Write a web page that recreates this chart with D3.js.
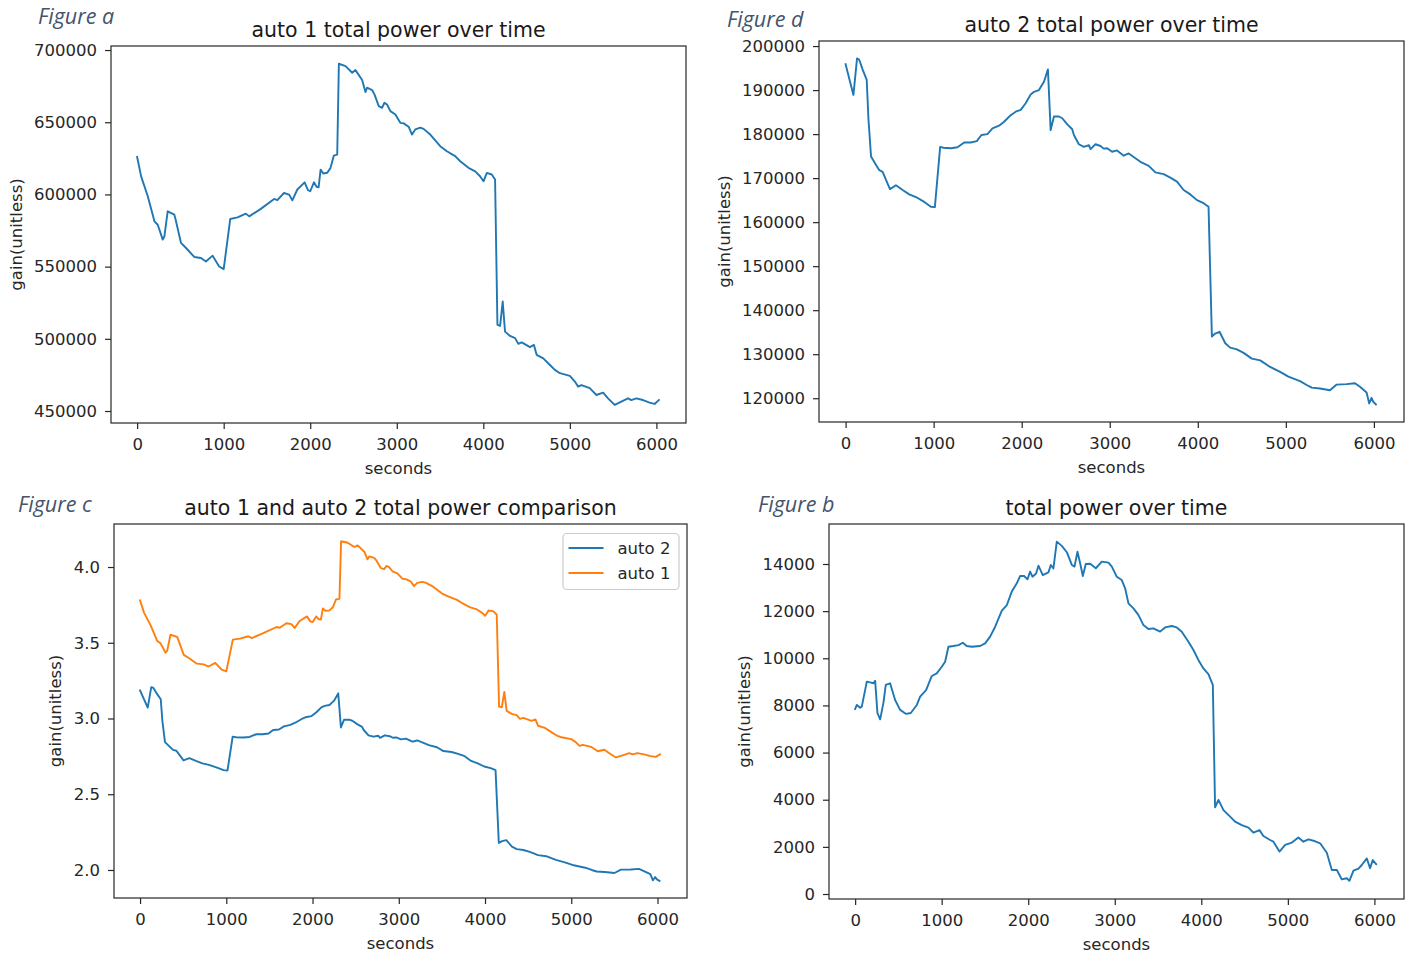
<!DOCTYPE html>
<html>
<head>
<meta charset="utf-8">
<script src="https://cdn.jsdelivr.net/npm/d3@7/dist/d3.min.js"></script>
<style>
  html, body { margin: 0; padding: 0; background: #fff; }
  svg { display: block; }
  .tick text { font-family: "DejaVu Sans", sans-serif; font-size: 16.5px; fill: #262626; }
  .tick line { stroke: #262626; stroke-width: 1.2; }
</style>
</head>
<body>
<svg id="chart" width="1411" height="953"></svg>
<script>
// ---- measurements: seconds and gain for each run ----
const auto1Seconds = [0,46,123,200,238,296,315,353,430,445,507,565,660,737,795,872,948,1000,1076,1160,1256,1295,1429,1583,1620,1697,1756,1793,1851,1935,1974,2000,2043,2073,2097,2120,2150,2197,2235,2273,2312,2331,2408,2485,2523,2600,2638,2657,2715,2742,2792,2830,2857,2888,2926,2984,3041,3080,3137,3176,3214,3272,3310,3387,3502,3579,3675,3733,3829,3906,3963,4002,4041,4098,4136,4163,4194,4224,4251,4309,4367,4405,4444,4539,4585,4616,4693,4770,4827,4885,5000,5058,5096,5134,5230,5307,5384,5441,5518,5595,5672,5710,5768,5845,5921,5979,6029];
const auto1Gain = [626000,612500,598700,581400,579000,568700,571000,588300,586000,582500,566400,562900,556700,556000,553600,557600,550100,548300,583000,584100,586700,584800,590000,596900,596000,601000,599900,595900,603400,608400,602900,602200,608400,605300,605000,617200,614500,615000,618400,626900,627600,690500,688900,684300,686100,679200,670900,673900,672300,669300,661200,660000,663500,662300,657700,655400,649600,649200,646900,641500,645000,646200,645400,641500,633400,629900,626500,623000,618400,616000,612600,609100,614900,613800,610300,509700,509000,525800,505000,502000,500500,496500,497500,494200,495800,488900,486500,481900,478500,476200,474300,470400,466900,468000,465800,461100,462700,458800,454200,456500,458800,457600,458800,457600,455800,454900,457600];
const auto1Relative = [3.780,3.699,3.615,3.511,3.496,3.434,3.448,3.553,3.539,3.517,3.420,3.399,3.362,3.357,3.343,3.367,3.322,3.311,3.521,3.527,3.543,3.531,3.563,3.604,3.599,3.629,3.623,3.598,3.644,3.674,3.641,3.636,3.674,3.655,3.653,3.727,3.711,3.714,3.734,3.786,3.790,4.170,4.160,4.132,4.143,4.101,4.051,4.070,4.060,4.042,3.993,3.986,4.007,3.999,3.972,3.958,3.923,3.920,3.906,3.874,3.895,3.902,3.897,3.874,3.825,3.804,3.783,3.762,3.734,3.720,3.699,3.678,3.713,3.707,3.685,3.078,3.074,3.175,3.050,3.031,3.022,2.998,3.004,2.984,2.994,2.952,2.938,2.910,2.889,2.876,2.864,2.841,2.819,2.826,2.813,2.784,2.794,2.771,2.743,2.757,2.771,2.763,2.771,2.763,2.752,2.747,2.763];

const auto2Seconds = [0,89,130,155,195,240,259,289,346,383,421,459,504,572,648,723,799,893,969,1014,1074,1112,1196,1271,1347,1422,1490,1543,1611,1668,1743,1800,1875,1932,1989,2045,2102,2140,2196,2253,2298,2329,2366,2423,2461,2518,2574,2593,2649,2706,2763,2782,2838,2895,2932,2970,3027,3083,3159,3215,3272,3348,3443,3518,3612,3688,3764,3839,3915,3991,4066,4122,4160,4198,4247,4312,4368,4444,4520,4614,4709,4822,4935,5029,5161,5237,5294,5388,5501,5577,5690,5785,5842,5917,5947,5973,5993,6023];
const auto2Gain = [195900,188900,197200,196900,194600,192300,183600,174900,173000,171800,171400,169600,167500,168400,167300,166300,165700,164600,163500,163400,177100,176900,176800,177000,178100,178100,178400,179800,180000,181300,181900,182800,184300,185100,185500,187000,189000,189600,190000,191900,194700,180900,184000,184000,183600,182200,181100,179800,177700,177100,177500,176600,177700,177300,176700,176800,176000,176300,175100,175600,174800,173700,172800,171300,170900,170100,169200,167300,166300,165000,164300,163500,134000,134700,135100,132500,131500,131100,130300,129000,128600,127100,126000,124900,123900,123000,122400,122200,121800,123100,123200,123400,122600,121300,118800,120100,119200,118600];
const auto2Relative = [3.185,3.072,3.207,3.202,3.164,3.127,2.985,2.844,2.813,2.793,2.787,2.758,2.724,2.738,2.720,2.704,2.694,2.676,2.659,2.657,2.880,2.876,2.875,2.878,2.896,2.896,2.901,2.924,2.927,2.948,2.958,2.972,2.997,3.010,3.016,3.041,3.073,3.083,3.089,3.120,3.166,2.941,2.992,2.992,2.985,2.963,2.945,2.924,2.889,2.880,2.886,2.872,2.889,2.883,2.873,2.875,2.862,2.867,2.847,2.855,2.842,2.824,2.810,2.785,2.779,2.766,2.751,2.720,2.704,2.683,2.672,2.659,2.179,2.190,2.197,2.154,2.138,2.132,2.119,2.098,2.091,2.067,2.049,2.031,2.015,2.000,1.990,1.987,1.980,2.002,2.003,2.007,1.993,1.972,1.932,1.953,1.938,1.928];

const totalSeconds = [0,20,58,77,135,173,212,231,258,289,327,354,404,462,520,589,643,713,751,820,886,943,1001,1040,1078,1136,1194,1244,1290,1348,1444,1502,1560,1618,1695,1753,1810,1868,1906,1953,1991,2022,2049,2091,2118,2168,2233,2261,2291,2330,2388,2446,2504,2535,2569,2600,2631,2665,2716,2781,2850,2927,2966,3023,3081,3120,3158,3216,3273,3331,3389,3446,3524,3581,3659,3716,3774,3851,3909,3966,4024,4082,4133,4159,4198,4256,4333,4390,4468,4545,4602,4672,4717,4795,4833,4903,4969,5046,5122,5180,5238,5296,5373,5450,5508,5566,5623,5681,5711,5758,5816,5854,5912,5950,5981,6020];
const totalGain = [7850,8020,7900,7950,9010,8980,8940,9050,7670,7410,8110,8870,8940,8230,7810,7640,7680,8020,8370,8650,9250,9360,9640,9850,10490,10520,10560,10660,10520,10490,10520,10630,10920,11340,12020,12260,12830,13180,13490,13490,13350,13680,13460,13600,13930,13530,13640,13960,13810,14950,14770,14500,13960,13890,14520,14030,13490,14000,14010,13820,14100,14060,13890,13460,13320,12970,12330,12120,11840,11410,11240,11270,11130,11310,11370,11310,11130,10700,10350,9930,9570,9330,8870,3680,3990,3560,3280,3070,2920,2820,2600,2710,2460,2290,2220,1800,2080,2180,2400,2220,2320,2260,2150,1750,1020,1020,620,670,560,990,1080,1230,1510,1090,1440,1270];

// ---- tick values ----
const secondTicks = [0,1000,2000,3000,4000,5000,6000];
const auto1Ticks = [450000,500000,550000,600000,650000,700000];
const auto2Ticks = [120000,130000,140000,150000,160000,170000,180000,190000,200000];
const relativeTicks = [2.0,2.5,3.0,3.5,4.0];
const totalTicks = [0,2000,4000,6000,8000,10000,12000,14000];

const BLUE = "#1f77b4", ORANGE = "#ff7f0e";
const pair = (xs, ys) => xs.map((s, i) => ({s, v: ys[i]}));

const panels = [
  { tag: "Figure a", tagX: 38, tagY: 24,
    frame: {left: 111, top: 46, right: 686, bottom: 423},
    yDomain: [441700, 702800], yTicks: auto1Ticks, yFormat: d3.format("d"),
    title: "auto 1 total power over time",
    series: [{name: "auto 1", color: BLUE, pts: pair(auto1Seconds, auto1Gain)}] },
  { tag: "Figure d", tagX: 727, tagY: 26.5,
    frame: {left: 819, top: 41, right: 1404, bottom: 422},
    yDomain: [114600, 201150], yTicks: auto2Ticks, yFormat: d3.format("d"),
    title: "auto 2 total power over time",
    series: [{name: "auto 2", color: BLUE, pts: pair(auto2Seconds, auto2Gain)}] },
  { tag: "Figure c", tagX: 18, tagY: 512,
    frame: {left: 114, top: 524, right: 687, bottom: 898},
    yDomain: [1.815, 4.284], yTicks: relativeTicks, yFormat: d3.format(".1f"),
    title: "auto 1 and auto 2 total power comparison",
    legend: true,
    series: [{name: "auto 2", color: BLUE, pts: pair(auto2Seconds, auto2Relative)},
             {name: "auto 1", color: ORANGE, pts: pair(auto1Seconds, auto1Relative)}] },
  { tag: "Figure b", tagX: 758, tagY: 512,
    frame: {left: 829, top: 524, right: 1404, bottom: 899},
    yDomain: [-212, 15697], yTicks: totalTicks, yFormat: d3.format("d"),
    title: "total power over time",
    series: [{name: "total", color: BLUE, pts: pair(totalSeconds, totalGain)}] }
];

const svg = d3.select("#chart");
svg.append("rect").attr("width", 1411).attr("height", 953).attr("fill", "#fff");

const FONT = "DejaVu Sans, sans-serif";

panels.forEach(p => {
  const f = p.frame;
  const x = d3.scaleLinear().domain([-302, 6342]).range([f.left, f.right]);
  const y = d3.scaleLinear().domain(p.yDomain).range([f.bottom, f.top]);
  const g = svg.append("g");

  // plot lines, clipped to the axes area
  const clipId = "clip-" + p.tag.replace(/\s/g, "");
  svg.append("clipPath").attr("id", clipId)
    .append("rect").attr("x", f.left).attr("y", f.top)
    .attr("width", f.right - f.left).attr("height", f.bottom - f.top);

  const line = d3.line().x(d => x(d.s)).y(d => y(d.v));
  p.series.forEach(s => {
    g.append("path").datum(s.pts)
      .attr("clip-path", `url(#${clipId})`)
      .attr("fill", "none").attr("stroke", s.color)
      .attr("stroke-width", 1.9).attr("stroke-linejoin", "round")
      .attr("stroke-linecap", "square")
      .attr("d", line);
  });

  // axes
  const xAxis = g.append("g").attr("transform", `translate(0,${f.bottom})`)
    .call(d3.axisBottom(x).tickValues(secondTicks).tickFormat(d3.format("d")).tickSize(6).tickPadding(9));
  const yAxis = g.append("g").attr("transform", `translate(${f.left},0)`)
    .call(d3.axisLeft(y).tickValues(p.yTicks).tickFormat(p.yFormat).tickSize(6).tickPadding(8));
  xAxis.select(".domain").remove();
  yAxis.select(".domain").remove();

  // frame
  g.append("rect").attr("x", f.left).attr("y", f.top)
    .attr("width", f.right - f.left).attr("height", f.bottom - f.top)
    .attr("fill", "none").attr("stroke", "#262626").attr("stroke-width", 1.2);

  // title
  g.append("text").attr("x", (f.left + f.right) / 2).attr("y", f.top - 9.5)
    .attr("text-anchor", "middle").attr("font-family", FONT)
    .attr("font-size", 20.5).attr("fill", "#1a1a1a").text(p.title);

  // x label
  g.append("text").attr("x", (f.left + f.right) / 2).attr("y", f.bottom + 51)
    .attr("text-anchor", "middle").attr("font-family", FONT)
    .attr("font-size", 16.5).attr("fill", "#262626").text("seconds");

  // y label, placed just left of the widest tick label
  const yBox = yAxis.node().getBBox();
  const lx = f.left + yBox.x - 12.5;
  g.append("text").attr("transform", `translate(${lx},${(f.top + f.bottom) / 2}) rotate(-90)`)
    .attr("text-anchor", "middle").attr("font-family", FONT)
    .attr("font-size", 16.5).attr("fill", "#262626").text("gain(unitless)");

  // figure tag
  svg.append("text").attr("x", p.tagX).attr("y", p.tagY)
    .attr("font-family", "Open Sans, sans-serif").attr("font-style", "italic")
    .attr("font-size", 21.5).attr("fill", "#44546a").text(p.tag);

  // legend
  if (p.legend) {
    const lw = 116, lh = 56;
    const lxr = f.right - 8 - lw, lyt = f.top + 9.5;
    const lg = g.append("g");
    lg.append("rect").attr("x", lxr).attr("y", lyt).attr("width", lw).attr("height", lh)
      .attr("rx", 4).attr("fill", "#fff").attr("fill-opacity", 0.8)
      .attr("stroke", "#cccccc").attr("stroke-width", 1.2);
    p.series.forEach((s, i) => {
      const cy = lyt + 14.5 + i * 25;
      lg.append("line").attr("x1", lxr + 5.5).attr("x2", lxr + 40.5)
        .attr("y1", cy).attr("y2", cy).attr("stroke", s.color).attr("stroke-width", 1.9);
      lg.append("text").attr("x", lxr + 54.5).attr("y", cy).attr("dy", "0.35em")
        .attr("font-family", FONT).attr("font-size", 16.5).attr("fill", "#262626").text(s.name);
    });
  }
});
</script>
</body>
</html>
